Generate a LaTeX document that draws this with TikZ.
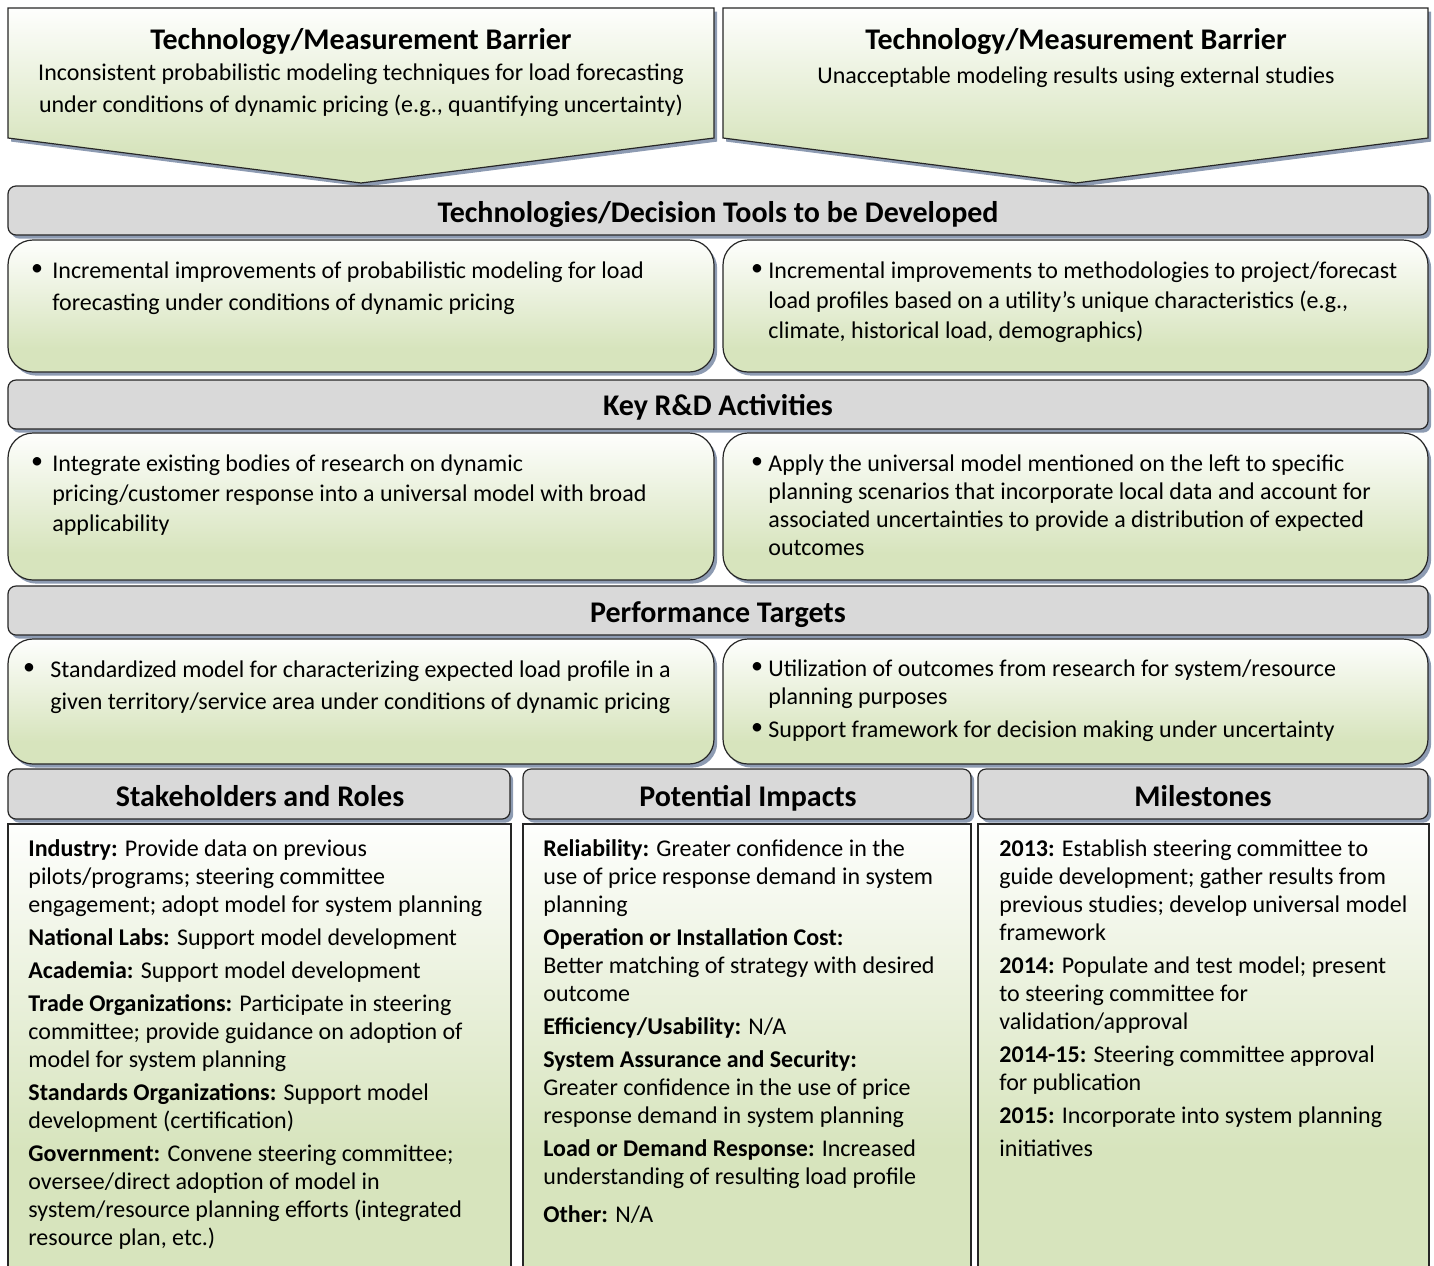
\documentclass[tikz,border=0pt]{standalone}
\usepackage{fontspec}
\setmainfont{Carlito}
\usetikzlibrary{shadows}
\definecolor{leaf}{RGB}{215,228,189}
\definecolor{barfill}{RGB}{217,217,217}
\definecolor{shadowblue}{RGB}{141,155,178}
\definecolor{edge}{RGB}{38,38,38}
\pgfdeclareverticalshading{leaffade}{100bp}{color(0bp)=(leaf); color(25bp)=(leaf); color(34bp)=(leaf); color(75bp)=(white!97!leaf); color(100bp)=(white)}
\pgfdeclareverticalshading{colfade}{100bp}{color(0bp)=(leaf); color(25bp)=(leaf); color(38bp)=(leaf); color(75bp)=(white!97!leaf); color(100bp)=(white)}
\begin{document}
\begin{tikzpicture}[x=0.5pt,y=-0.5pt,
		blueshadow/.style={drop shadow={shadow xshift=1.6pt,shadow yshift=-1.8pt,fill=shadowblue,opacity=1}},
		panel/.style={draw=edge,line width=0.6pt,shading=leaffade,blueshadow},
		bar/.style={draw=edge,line width=0.6pt,fill=barfill,rounded corners=4pt,blueshadow},
		bartitle/.style={anchor=base,inner sep=0pt,font=\bfseries\fontsize{15}{17}\selectfont},
		body/.style={anchor=north west,inner sep=0pt,align=left,font=\fontsize{12}{15}\selectfont},
		colbody/.style={anchor=north west,inner sep=0pt,align=left,font=\fontsize{12}{14}\selectfont},
		dot/.style={anchor=center,inner sep=0pt,font=\fontsize{12}{14}\selectfont}]
	\useasboundingbox (0,0) rectangle (1434,1265);

	% barriers
	\path[panel] (8,8) -- (714,8) -- (714,138) -- (361,183) -- (8,138) -- cycle;
	\path[panel] (723,8) -- (1428,8) -- (1428,138) -- (1076,183) -- (723,138) -- cycle;
	\node[bartitle] (barrierLtitle) at (361,49.5) {Technology/Measurement Barrier};
	\node[body,anchor=north,align=center,font=\fontsize{12}{16}\selectfont] (barrierLtext) at (361,63)
		{Inconsistent probabilistic modeling techniques for load forecasting\\
		under conditions of dynamic pricing (e.g., quantifying uncertainty)};
	\node[bartitle] (barrierRtitle) at (1076,49.5) {Technology/Measurement Barrier};
	\node[body,anchor=north,align=center] (barrierRtext) at (1076,66)
		{Unacceptable modeling results using external studies};

	% tools
	\path[bar] (8,186) rectangle (1428,235);
	\node[bartitle] (toolsbar) at (718,222.5) {Technologies/Decision Tools to be Developed};
	\path[panel,rounded corners=12.5pt] (8,240) rectangle (714,372);
	\path[panel,rounded corners=12.5pt] (723,240) rectangle (1428,372);
	\node[dot] (toolsLdot) at (37,270) {\textbullet};
	\node[body] (toolsL) at (52,261)
		{Incremental improvements of probabilistic modeling for load\\[1pt]
		forecasting under conditions of dynamic pricing};
	\node[dot] (toolsRdot) at (757,270) {\textbullet};
	\node[body] (toolsR) at (768,261)
		{Incremental improvements to methodologies to project/forecast\\
		load profiles based on a utility’s unique characteristics (e.g.,\\
		climate, historical load, demographics)};

	% activities
	\path[bar] (8,380) rectangle (1428,429);
	\node[bartitle] (activitybar) at (718,415.5) {Key R\&D Activities};
	\path[panel,rounded corners=12.5pt] (8,433) rectangle (714,580);
	\path[panel,rounded corners=12.5pt] (723,433) rectangle (1428,580);
	\node[dot] (activityLdot) at (37,463) {\textbullet};
	\node[body] (activityL) at (52,454)
		{Integrate existing bodies of research on dynamic\\
		pricing/customer response into a universal model with broad\\
		applicability};
	\node[dot] (activityRdot) at (757,463) {\textbullet};
	\node[body,font=\fontsize{12}{14}\selectfont] (activityR) at (768,454)
		{Apply the universal model mentioned on the left to specific\\
		planning scenarios that incorporate local data and account for\\
		associated uncertainties to provide a distribution of expected\\
		outcomes};

	% targets
	\path[bar] (8,586) rectangle (1428,635);
	\node[bartitle] (targetbar) at (718,622.5) {Performance Targets};
	\path[panel,rounded corners=12.5pt] (8,639) rectangle (714,764);
	\path[panel,rounded corners=12.5pt] (723,639) rectangle (1428,764);
	\node[dot] (targetLdot) at (29,669) {\textbullet};
	\node[body,font=\fontsize{12}{16}\selectfont] (targetL) at (50,660)
		{Standardized model for characterizing expected load profile in a\\
		given territory/service area under conditions of dynamic pricing};
	\node[dot] (targetRdot) at (757,668) {\textbullet};
	\node[body,font=\fontsize{12}{14}\selectfont] (targetR) at (768,659)
		{Utilization of outcomes from research for system/resource\\
		planning purposes};
	\node[dot] (targetRdotb) at (757,729) {\textbullet};
	\node[body] (targetRb) at (768,720)
		{Support framework for decision making under uncertainty};

	% bottom columns
	\path[bar] (8,769) rectangle (510,819);
	\path[bar] (523,769) rectangle (971,819);
	\path[bar] (978,769) rectangle (1428,819);
	\node[bartitle] (rolebar) at (260,806.5) {Stakeholders and Roles};
	\node[bartitle] (impactbar) at (748,806.5) {Potential Impacts};
	\node[bartitle] (milebar) at (1203,806.5) {Milestones};

	\shade[shading=colfade] (8,824) rectangle (511,1265);
	\shade[shading=colfade] (523,824) rectangle (971,1265);
	\shade[shading=colfade] (978,824) rectangle (1429,1265);
	\draw[edge,line width=1pt] (8,1266) -- (8,824) -- (511,824) -- (511,1266);
	\draw[edge,line width=1pt] (523,1266) -- (523,824) -- (971,824) -- (971,1266);
	\draw[edge,line width=1pt] (978,1266) -- (978,824) -- (1429,824) -- (1429,1266);

	\node[colbody] (roles) at (28,839)
		{\textbf{Industry:} Provide data on previous\\
		pilots/programs; steering committee\\
		engagement; adopt model for system planning\\[2.5pt]
		\textbf{National Labs:} Support model development\\[2.5pt]
		\textbf{Academia:} Support model development\\[2.5pt]
		\textbf{Trade Organizations:} Participate in steering\\
		committee; provide guidance on adoption of\\
		model for system planning\\[2.5pt]
		\textbf{Standards Organizations:} Support model\\
		development (certification)\\[2.5pt]
		\textbf{Government:} Convene steering committee;\\
		oversee/direct adoption of model in\\
		system/resource planning efforts (integrated\\
		resource plan, etc.)};
	\node[colbody] (impacts) at (543,839)
		{\textbf{Reliability:} Greater confidence in the\\
		use of price response demand in system\\
		planning\\[2.5pt]
		\textbf{Operation or Installation Cost:}\\
		Better matching of strategy with desired\\
		outcome\\[2.5pt]
		\textbf{Efficiency/Usability:} N/A\\[2.5pt]
		\textbf{System Assurance and Security:}\\
		Greater confidence in the use of price\\
		response demand in system planning\\[2.5pt]
		\textbf{Load or Demand Response:} Increased\\
		understanding of resulting load profile\\[5pt]
		\textbf{Other:} N/A};
	\node[colbody] (milestones) at (999,839)
		{\textbf{2013:} Establish steering committee to\\
		guide development; gather results from\\
		previous studies; develop universal model\\
		framework\\[2.5pt]
		\textbf{2014:} Populate and test model; present\\
		to steering committee for\\
		validation/approval\\[2.5pt]
		\textbf{2014-15:} Steering committee approval\\
		for publication\\[2.5pt]
		\textbf{2015:} Incorporate into system planning\\[2.5pt]
		initiatives};
\end{tikzpicture}
\end{document}
